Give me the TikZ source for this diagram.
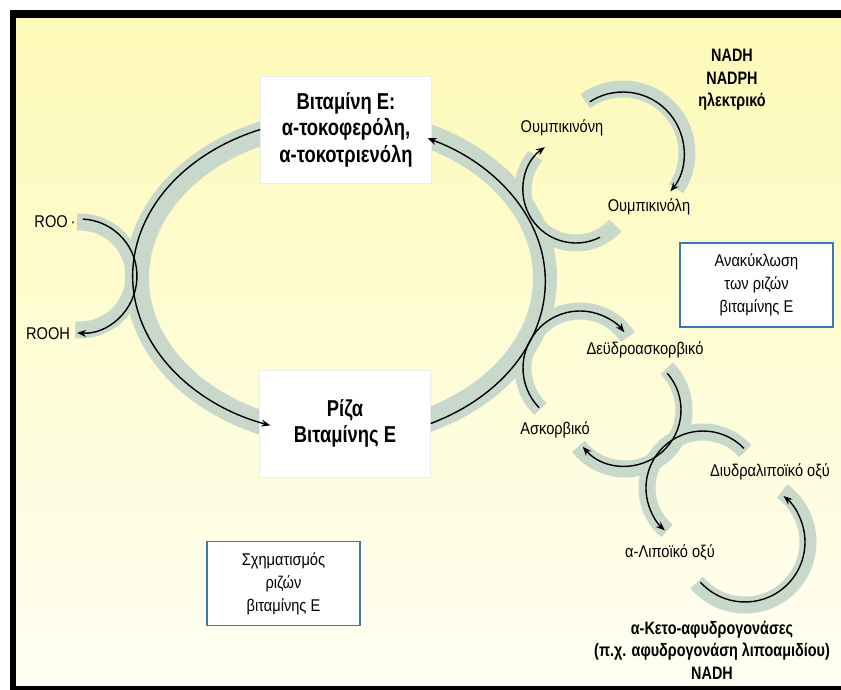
\documentclass[tikz,border=0pt]{standalone}
\usepackage{fontspec}
\setmainfont{Liberation Sans}[FakeStretch=0.86,BoldFeatures={FakeStretch=0.8}]
\usetikzlibrary{arrows.meta}

\definecolor{bandgrey}{RGB}{200,217,204}
\definecolor{paleyellow}{RGB}{253,249,182}
\definecolor{paper}{RGB}{255,255,243}
\definecolor{boxblue}{RGB}{58,122,178}

\begin{document}
\begin{tikzpicture}[x=1pt,y=1pt,
  band/.style={bandgrey, line width=17pt},
  flow/.style={line width=1.4pt, -{Stealth[length=9pt,width=7pt]}},
  lbl/.style={inner sep=0pt, font=\fontsize{17}{20}\selectfont},
  boldlbl/.style={inner sep=0pt, align=center, font=\fontsize{18}{22.5}\bfseries\selectfont},
  whitebox/.style={fill=white, draw=black!8, minimum width=171pt, minimum height=107pt,
    align=center, font=\fontsize{23}{26.5}\bfseries\selectfont},
  bluebox/.style={fill=white, draw=boxblue, line width=1.5pt, minimum width=153pt,
    minimum height=84pt, align=center, font=\fontsize{17}{23}\selectfont}
]

% Page and frame
\useasboundingbox (0,0) rectangle (841,-689);
\clip (0,0) rectangle (841,-689);
\fill[white] (0,0) rectangle (841,-689);
\fill[black] (10,-10) rectangle (860,-700);
\shade[top color=paleyellow, bottom color=paper] (16,-18) rectangle (860,-685);

% Centres of the arcs
\coordinate (cRoo) at (80,-276);
\coordinate (cUq) at (576,-190);
\coordinate (cNadh) at (623,-153);
\coordinate (cDha) at (580,-368);
\coordinate (cAsc) at (625,-410);
\coordinate (cLa) at (703,-488);
\coordinate (cDhla) at (745,-542);

% Grey bands
\draw[band, line width=24pt] (341,-278) ellipse [x radius=204, y radius=157];
\draw[band] ([shift={(93:54)}]cRoo) arc[start angle=93, end angle=-95, radius=54];
\draw[band] ([shift={(-42:53)}]cUq) arc[start angle=-42, end angle=-220, radius=53];
\draw[band] ([shift={(126:64)}]cNadh) arc[start angle=126, end angle=-34, radius=64];
\draw[band] ([shift={(226:57)}]cDha) arc[start angle=226, end angle=33, radius=57];
\draw[band] ([shift={(45:59)}]cAsc) arc[start angle=45, end angle=-142, radius=59];
\draw[band] ([shift={(41:56)}]cLa) arc[start angle=41, end angle=230, radius=56];
\draw[band] ([shift={(-140:63)}]cDhla) arc[start angle=-140, end angle=54, radius=63];

% Boxes
\node[whitebox] (vitE) at (346,-129.5) {Βιταμίνη Ε:\\α-τοκοφερόλη,\\α-τοκοτριενόλη};
\node[whitebox] (riza) at (345,-423.5) {Ρίζα\\Βιταμίνης Ε};
\node[bluebox] (recyc) at (756.5,-285) {Ανακύκλωση\\των ριζών\\βιταμίνης Ε};
\node[bluebox] (schem) at (283.5,-583.5) {Σχηματισμός\\ριζών\\βιταμίνης Ε};

% Labels
\node[lbl] (roo) at (55,-222) {ROO\,·};
\node[lbl] (rooh) at (48,-334) {ROOH};
\node[lbl] (uq) at (562,-128) {Ουμπικινόνη};
\node[lbl] (uqh) at (649,-207) {Ουμπικινόλη};
\node[boldlbl] (nadh) at (732,-80) {NADH\\NADPH\\ηλεκτρικό};
\node[lbl] (dha) at (645,-350) {Δεϋδροασκορβικό};
\node[lbl] (asc) at (555,-430) {Ασκορβικό};
\node[lbl] (dhla) at (770,-472) {Διυδραλιποϊκό οξύ};
\node[lbl] (la) at (670,-553) {α-Λιποϊκό οξύ};
\node[boldlbl] (keto) at (712,-650) {α-Κετο-αφυδρογονάσες\\(π.χ. αφυδρογονάση λιποαμιδίου)\\NADH};

% Main cycle
\draw[flow] (vitE.west) arc[start angle=112, end angle=251, x radius=204, y radius=158];
\draw[flow] (riza.east) arc[start angle=-64, end angle=65, x radius=204, y radius=158];

% Side reactions
\draw[flow] ([shift={(87:57)}]cRoo) arc[start angle=87, end angle=-93, radius=57];
\draw[flow] ([shift={(-63:53)}]cUq) arc[start angle=-63, end angle=-234, radius=53];
\draw[flow] ([shift={(123:61)}]cNadh) arc[start angle=123, end angle=-39, radius=61];
\draw[flow] ([shift={(224:57)}]cDha) arc[start angle=224, end angle=39, radius=57];
\draw[flow] ([shift={(41:56)}]cAsc) arc[start angle=41, end angle=-139, radius=56];
\draw[flow] ([shift={(44:57)}]cLa) arc[start angle=44, end angle=228, radius=57];
\draw[flow] ([shift={(-138:60)}]cDhla) arc[start angle=-138, end angle=50, radius=60];

\end{tikzpicture}
\end{document}
